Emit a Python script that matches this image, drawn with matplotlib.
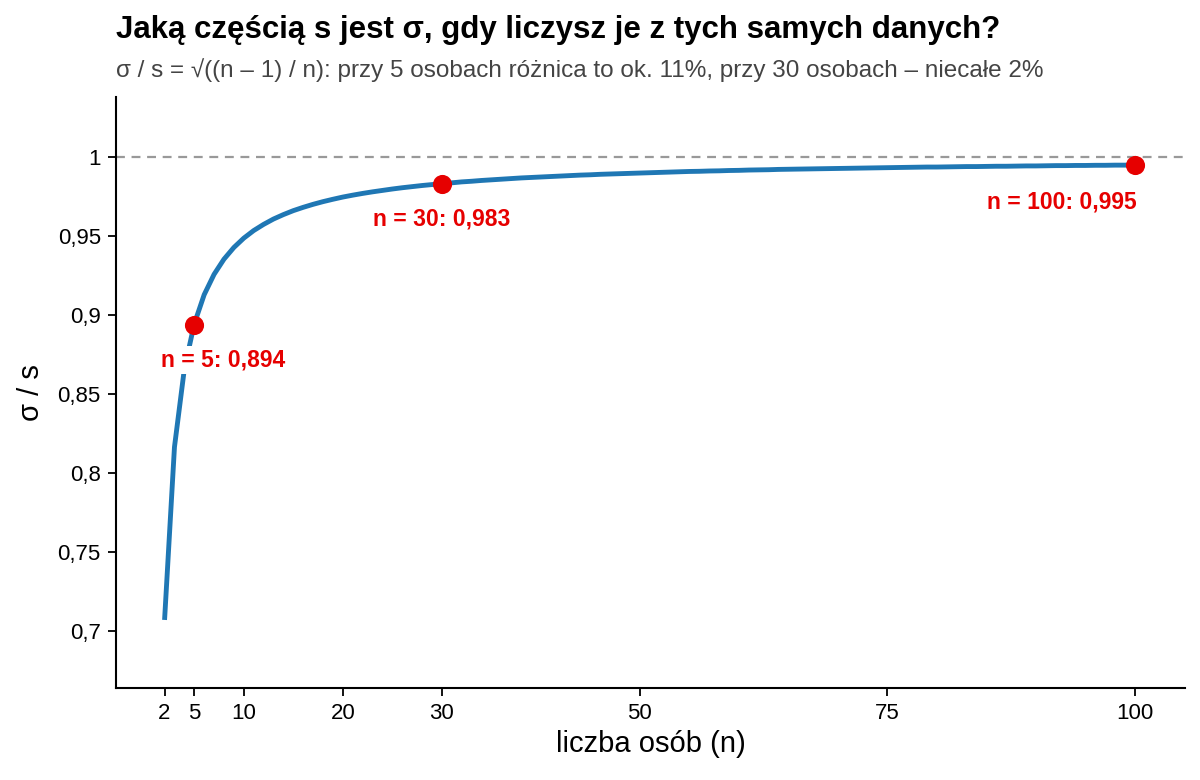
import matplotlib
matplotlib.use("Agg")
import matplotlib.pyplot as plt

plt.rcParams["font.family"] = ["Liberation Sans", "DejaVu Sans"]

# dane: sigma / s dla n = 2..100
n_values = list(range(2, 101))
ratio_values = [
    0.7071, 0.8165, 0.8660, 0.8944, 0.9129, 0.9258, 0.9354, 0.9428, 0.9487,
    0.9535, 0.9574, 0.9608, 0.9636, 0.9661, 0.9682, 0.9701, 0.9718, 0.9733,
    0.9747, 0.9759, 0.9770, 0.9780, 0.9789, 0.9798, 0.9806, 0.9813, 0.9820,
    0.9826, 0.9832, 0.9837, 0.9843, 0.9847, 0.9852, 0.9856, 0.9860, 0.9864,
    0.9868, 0.9871, 0.9874, 0.9877, 0.9880, 0.9883, 0.9886, 0.9888, 0.9891,
    0.9893, 0.9895, 0.9897, 0.9899, 0.9901, 0.9903, 0.9905, 0.9907, 0.9909,
    0.9910, 0.9912, 0.9913, 0.9915, 0.9916, 0.9918, 0.9919, 0.9920, 0.9922,
    0.9923, 0.9924, 0.9925, 0.9926, 0.9927, 0.9928, 0.9929, 0.9930, 0.9931,
    0.9932, 0.9933, 0.9934, 0.9935, 0.9936, 0.9937, 0.9937, 0.9938, 0.9939,
    0.9940, 0.9940, 0.9941, 0.9942, 0.9942, 0.9943, 0.9944, 0.9944, 0.9945,
    0.9946, 0.9946, 0.9947, 0.9947, 0.9948, 0.9948, 0.9949, 0.9949, 0.9950,
]
marked_n = [5, 30, 100]
marked_ratio = [0.894, 0.983, 0.995]
marked_labels = ["n = 5: 0,894", "n = 30: 0,983", "n = 100: 0,995"]
x_ticks = [2, 5, 10, 20, 30, 50, 75, 100]
y_ticks = [0.7, 0.75, 0.8, 0.85, 0.9, 0.95, 1.0]
y_tick_labels = ["0,7", "0,75", "0,8", "0,85", "0,9", "0,95", "1"]

fig = plt.figure(figsize=(12, 7.8), dpi=100)
ax = fig.add_axes([0.0967, 0.1179, 0.8908, 0.7577])

ax.axhline(1.0, color="#999999", linestyle=(0, (4, 3)), linewidth=1.6, zorder=1)
ax.plot(n_values, ratio_values, color="#1f77b4", linewidth=3.5,
        solid_capstyle="butt", zorder=2)
ax.scatter(marked_n, marked_ratio, s=190, color="#e60000", zorder=4,
           linewidths=0)

red = "#e60000"
box = dict(boxstyle="square,pad=0.1", facecolor="white", edgecolor="none")
# n = 5 (etykieta przesunięta w prawo)
ax.text(marked_n[0] + 2.9, marked_ratio[0] - 0.0225, marked_labels[0],
        color=red, fontsize=16.5, fontweight="bold", ha="center", va="center",
        bbox=box, zorder=3)
ax.text(marked_n[1], marked_ratio[1] - 0.0225, marked_labels[1],
        color=red, fontsize=16.5, fontweight="bold", ha="center", va="center",
        bbox=box, zorder=3)
ax.text(marked_n[2] + 0.2, marked_ratio[2] - 0.0235, marked_labels[2],
        color=red, fontsize=16.5, fontweight="bold", ha="right", va="center",
        bbox=box, zorder=3)

ax.set_xlim(-2.9, 105.05)
ax.set_ylim(0.664, 1.038)
ax.set_xticks(x_ticks)
ax.set_xticklabels([str(t) for t in x_ticks])
ax.set_yticks(y_ticks)
ax.set_yticklabels(y_tick_labels)
ax.tick_params(labelsize=16, length=6, width=1.3, colors="black", pad=5)

for side in ("top", "right"):
    ax.spines[side].set_visible(False)
for side in ("left", "bottom"):
    ax.spines[side].set_linewidth(1.5)

ax.set_xlabel("liczba osób (n)", fontsize=21, labelpad=4)
ax.set_ylabel("σ / s", fontsize=21, labelpad=9)

fig.text(0.0967, 0.962, "Jaką częścią s jest σ, gdy liczysz je z tych samych danych?",
         fontsize=22.5, fontweight="bold", ha="left", va="center")
fig.text(0.0967, 0.910,
         "σ / s = √((n – 1) / n): przy 5 osobach różnica to ok. 11%, przy 30 osobach – niecałe 2%",
         fontsize=17.5, color="#444444", ha="left", va="center")

fig.savefig("out.png", dpi=100)
